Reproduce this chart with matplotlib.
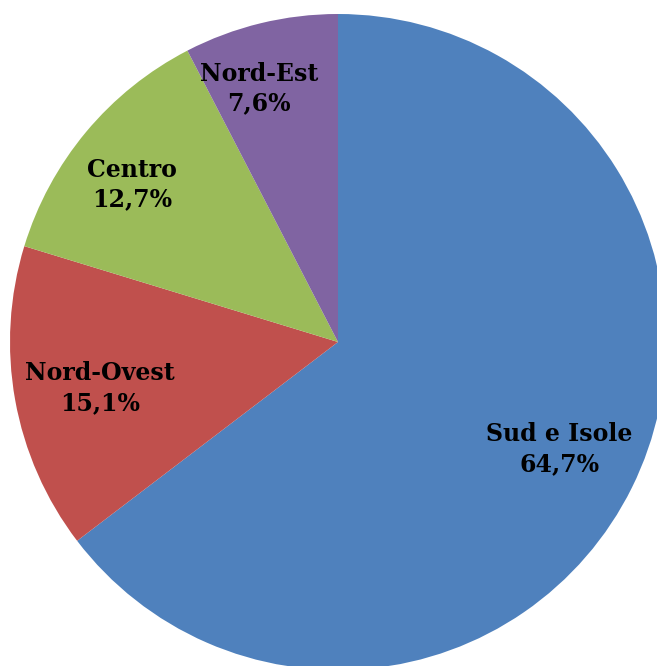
import numpy as np
import matplotlib.pyplot as plt

regions = ["Sud e Isole", "Nord-Ovest", "Centro", "Nord-Est"]
shares = [64.7, 15.1, 12.7, 7.6]
colors = ["#4F81BD", "#C0504D", "#9BBB59", "#8064A2"]

labels = [f"{r}\n{str(v).replace('.', ',')}%" for r, v in zip(regions, shares)]

# label placement: fraction of radius and small angle nudge (deg) per wedge
label_dist = [0.75, 0.74, 0.79, 0.81]
label_nudge = [0.5, 0.8, 2.4, 3.7]

fig = plt.figure(figsize=(6.57, 6.66), dpi=100)
ax = fig.add_axes([0, 0, 1, 1])

cx, cy, R = 338, -342, 328
wedges, _ = ax.pie(shares, colors=colors, startangle=90,
                   counterclock=False, radius=R, center=(cx, cy),
                   frame=False, wedgeprops=dict(linewidth=0))

for w, lab, d, n in zip(wedges, labels, label_dist, label_nudge):
    ang = np.deg2rad((w.theta1 + w.theta2) / 2 + n)
    ax.text(cx + d * R * np.cos(ang), cy + d * R * np.sin(ang), lab,
            ha="center", va="center", family="DejaVu Serif",
            fontweight="bold", fontsize=17, linespacing=1.3)

ax.set_xlim(0, 657)
ax.set_ylim(-666, 0)
ax.set_aspect("equal")
ax.axis("off")

fig.savefig("out.png", dpi=100)
